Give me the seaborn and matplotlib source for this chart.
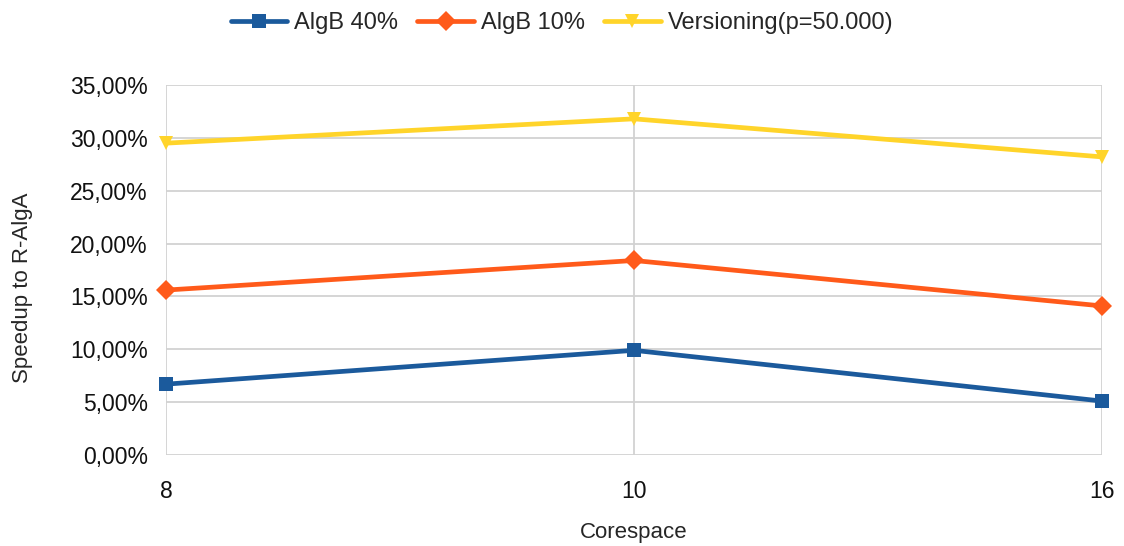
import matplotlib
matplotlib.use("Agg")
import matplotlib.pyplot as plt
import seaborn as sns
import pandas as pd
from matplotlib.ticker import FuncFormatter

categories = ["8", "10", "16"]
algb40 = [6.7, 9.9, 5.1]
algb10 = [15.6, 18.4, 14.1]
versioning = [29.5, 31.8, 28.2]
series_names = ["AlgB 40%", "AlgB 10%", "Versioning(p=50.000)"]
colors = ["#1b5a9c", "#ff5a1a", "#ffd42a"]

rows = []
for name, vals in zip(series_names, [algb40, algb10, versioning]):
    for c, v in zip(categories, vals):
        rows.append({"Corespace": c, "value": v, "series": name})
df = pd.DataFrame(rows)

sns.set_theme(style="white")
plt.rcParams["font.family"] = ["Liberation Sans", "DejaVu Sans"]

fig = plt.figure(figsize=(11.24, 5.46), dpi=100)
ax = fig.add_axes([0.1477, 0.1667, 0.8327, 0.6776])

sns.lineplot(data=df, x="Corespace", y="value", hue="series", style="series",
             hue_order=series_names, style_order=series_names,
             palette=colors, markers=["s", "D", "v"], dashes=False,
             linewidth=3.4, markersize=10.5, markeredgewidth=0, ax=ax,
             sort=False)
for line in ax.lines:
    line.set_clip_on(False)

ax.set_xlim(0, 2)
ax.set_ylim(0, 35)
ax.set_yticks(range(0, 36, 5))
ax.yaxis.set_major_formatter(FuncFormatter(lambda v, p: f"{v:.2f}".replace(".", ",") + "%"))
ax.grid(True, color="#d2d2d2", linewidth=1.3)
for s in ax.spines.values():
    s.set_visible(False)
ax.tick_params(axis="both", which="both", length=8, width=1.3, color="#d2d2d2",
               labelsize=16.5, labelcolor="#111111", pad=5)
ax.tick_params(axis="x", pad=10)
ax.set_xlabel("Corespace", fontsize=16, labelpad=14)
ax.set_ylabel("Speedup to R-AlgA", fontsize=16)
ax.yaxis.set_label_coords(-0.142, 0.451)

handles, labels = ax.get_legend_handles_labels()
ax.legend(handles, labels, loc="center", bbox_to_anchor=(0.5, 0.958),
          bbox_transform=fig.transFigure, ncol=3, frameon=False,
          fontsize=17, handlelength=2.4, columnspacing=0.8, handletextpad=0.3)

fig.savefig("out.png", dpi=100)
